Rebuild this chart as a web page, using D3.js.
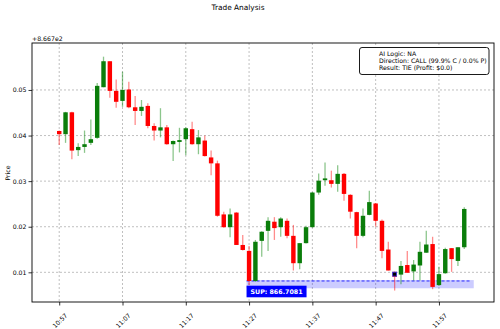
<!DOCTYPE html>
<html><head><meta charset="utf-8">
<script src="https://cdn.jsdelivr.net/npm/d3@7"></script>
<style>body{margin:0;background:#fff;}svg{display:block;font-family:"DejaVu Sans",sans-serif;}</style>
</head><body><svg id="c" width="500" height="329"></svg>
<script>
const times = ["10:57","10:58","10:59","11:00","11:01","11:02","11:03","11:04","11:05","11:06",
"11:07","11:08","11:09","11:10","11:11","11:12","11:13","11:14","11:15","11:16",
"11:17","11:18","11:19","11:20","11:21","11:22","11:23","11:24","11:25","11:26",
"11:27","11:28","11:29","11:30","11:31","11:32","11:33","11:34","11:35","11:36",
"11:37","11:38","11:39","11:40","11:41","11:42","11:43","11:44","11:45","11:46",
"11:47","11:48","11:49","11:50","11:51","11:52","11:53","11:54","11:55","11:56",
"11:57","11:58","11:59","12:00","12:01"];
const opens = [866.7410,866.7403,866.7451,866.7368,866.7375,866.7384,866.7395,866.7506,866.7563,866.7498,
866.7476,866.7501,866.7462,866.7454,866.7465,866.7421,866.7411,866.7418,866.7381,866.7386,
866.7392,866.7414,866.7381,866.7389,866.7352,866.7339,866.7227,866.7199,866.7231,866.7160,
866.7147,866.7081,866.7169,866.7191,866.7211,866.7199,866.7213,866.7180,866.7120,866.7164,
866.7199,866.7275,866.7302,866.7302,866.7294,866.7316,866.7270,866.7232,866.7180,866.7226,
866.7251,866.7213,866.7150,866.7101,866.7095,866.7116,866.7102,866.7115,866.7143,866.7162,
866.7072,866.7098,866.7153,866.7125,866.7155];
const highs = [866.7411,866.7452,866.7452,866.7383,866.7411,866.7435,866.7515,866.7573,866.7563,866.7523,
866.7540,866.7518,866.7487,866.7478,866.7471,866.7427,866.7460,866.7423,866.7389,866.7417,
866.7418,866.7430,866.7412,866.7400,866.7367,866.7345,866.7233,866.7240,866.7232,866.7182,
866.7158,866.7171,866.7190,866.7221,866.7221,866.7221,866.7218,866.7204,866.7164,866.7202,
866.7276,866.7317,866.7341,866.7323,866.7335,866.7318,866.7271,866.7233,866.7240,866.7279,
866.7252,866.7216,866.7167,866.7102,866.7125,866.7147,866.7127,866.7167,866.7191,866.7178,
866.7112,866.7154,866.7153,866.7155,866.7243];
const lows = [866.7379,866.7384,866.7348,866.7355,866.7362,866.7379,866.7393,866.7506,866.7483,866.7461,
866.7463,866.7460,866.7423,866.7443,866.7416,866.7389,866.7396,866.7380,866.7344,866.7363,
866.7357,866.7380,866.7359,866.7354,866.7313,866.7222,866.7198,866.7177,866.7160,866.7148,
866.7072,866.7079,866.7134,866.7147,866.7171,866.7178,866.7175,866.7104,866.7107,866.7163,
866.7198,866.7270,866.7290,866.7286,866.7277,866.7257,866.7218,866.7153,866.7177,866.7225,
866.7200,866.7131,866.7104,866.7060,866.7074,866.7099,866.7082,866.7082,866.7143,866.7063,
866.7070,866.7097,866.7101,866.7114,866.7151];
const closes = [866.7403,866.7451,866.7367,866.7375,866.7381,866.7392,866.7509,866.7563,866.7498,866.7474,
866.7500,866.7462,866.7454,866.7463,866.7421,866.7411,866.7418,866.7381,866.7388,866.7390,
866.7416,866.7381,866.7396,866.7355,866.7339,866.7224,866.7199,866.7227,866.7160,866.7149,
866.7081,866.7167,866.7189,866.7213,866.7197,866.7218,866.7180,866.7120,866.7164,866.7199,
866.7275,866.7301,866.7306,866.7294,866.7316,866.7272,866.7233,866.7180,866.7224,866.7254,
866.7213,866.7147,866.7104,866.7090,866.7114,866.7099,866.7117,866.7145,866.7161,866.7068,
866.7096,866.7151,866.7129,866.7155,866.7239];
const xTickLabels = ["10:57","11:07","11:17","11:27","11:37","11:47","11:57"];
const yTickValues = [866.71,866.72,866.73,866.74,866.75];
const yOffset = 866.7;
const supLevel = 866.7081;
const supZone = [866.7065, 866.7083];
const supStart = "11:26.6", supEnd = "12:02.5";
const entryTime = "11:50", entryPrice = 866.7096;
const infoLines = ["AI Logic: NA","Direction: CALL (99.9% C / 0.0% P)","Result: TIE (Profit: $0.0)"];

function toDate(s){ const [h,m] = s.split(":"); return new Date(2024,0,1,+h,0,0,0).getTime() + parseFloat(m)*60000; }
const data = times.map((t,i)=>({t:new Date(toDate(t)),o:opens[i],h:highs[i],l:lows[i],c:closes[i]}));

const L=32,R=494,T=43,B=302;
const svg = d3.select("#c");
const x = d3.scaleTime().domain([new Date(toDate("10:52.7")), new Date(toDate("12:05.7"))]).range([L,R]);
const y = d3.scaleLinear().domain([866.70349, 866.7603]).range([B,T]);

// grid
const g = svg.append("g");
xTickLabels.forEach(s=>{
  const xx = x(new Date(toDate(s)));
  g.append("line").attr("x1",xx).attr("x2",xx).attr("y1",T).attr("y2",B)
   .attr("stroke","#b0b0b0").attr("stroke-width",0.8).attr("stroke-dasharray","2,2");
});
yTickValues.forEach(v=>{
  g.append("line").attr("x1",L).attr("x2",R).attr("y1",y(v)).attr("y2",y(v))
   .attr("stroke","#b0b0b0").attr("stroke-width",0.8).attr("stroke-dasharray","2,2");
});

// support zone
const xs0 = x(new Date(toDate(supStart))), xs1 = x(new Date(toDate(supEnd)));
svg.append("rect").attr("x",xs0).attr("y",y(supZone[1])).attr("width",xs1-xs0)
  .attr("height",y(supZone[0])-y(supZone[1])).attr("fill","rgba(0,0,255,0.2)");
svg.append("line").attr("x1",xs0).attr("x2",xs1-3).attr("y1",y(supLevel)).attr("y2",y(supLevel))
  .attr("stroke","#0000ff").attr("stroke-width",1).attr("stroke-dasharray","3,2").attr("opacity",0.8);

// candles
const half = (x(new Date(toDate("10:57")+21000)) - x(new Date(toDate("10:57"))));
const cg = svg.append("g");
cg.selectAll(".w").data(data).join("line")
  .attr("x1",d=>x(d.t)).attr("x2",d=>x(d.t)).attr("y1",d=>y(d.h)).attr("y2",d=>y(d.l))
  .attr("stroke",d=>d.c>=d.o?"#008000":"#ff0000").attr("stroke-opacity",0.45).attr("stroke-width",1.3);
cg.selectAll(".b").data(data).join("rect")
  .attr("x",d=>x(d.t)-half).attr("width",half*2)
  .attr("y",d=>y(Math.max(d.o,d.c))).attr("height",d=>Math.max(1,Math.abs(y(d.o)-y(d.c))))
  .attr("fill",d=>d.c>=d.o?"#0a7d0a":"#ff0000");

// entry marker
const ex = x(new Date(toDate(entryTime))), ey = y(entryPrice);
svg.append("rect").attr("x",ex-2).attr("y",ey-2).attr("width",4).attr("height",4)
  .attr("fill","#000").attr("stroke","#4040ff").attr("stroke-width",0.8);

// SUP label
svg.append("rect").attr("x",xs0).attr("y",285.7).attr("width",60).attr("height",11.6).attr("fill","#0000ff");
svg.append("text").attr("x",xs0+30).attr("y",291.5).attr("dy","0.35em").attr("text-anchor","middle")
  .attr("fill","#fff").attr("font-weight","bold").attr("font-size",6.3).text("SUP: "+supLevel.toFixed(4));

// axes
const yAxis = d3.axisLeft(y).tickValues(yTickValues).tickSize(3.5).tickPadding(2)
  .tickFormat(v=>(v-yOffset).toFixed(2));
const ya = svg.append("g").attr("transform",`translate(${L},0)`).call(yAxis);
ya.select(".domain").remove();
ya.selectAll("text").attr("font-size",6.2).attr("fill","#000").attr("font-family","DejaVu Sans");
ya.selectAll("line").attr("stroke","#000").attr("stroke-width",0.8);

const xAxis = d3.axisBottom(x).tickValues(xTickLabels.map(s=>new Date(toDate(s)))).tickSize(3.5)
  .tickFormat((d,i)=>xTickLabels[i]);
const xa = svg.append("g").attr("transform",`translate(0,${B})`).call(xAxis);
xa.select(".domain").remove();
xa.selectAll("line").attr("stroke","#000").attr("stroke-width",0.8);
xa.selectAll("text").attr("font-size",6.2).attr("fill","#000").attr("font-family","DejaVu Sans")
  .attr("text-anchor","middle").attr("dy",null).attr("y",null)
  .attr("transform","translate(0,18.5) rotate(-45)").attr("dominant-baseline","central");

// frame
svg.append("rect").attr("x",L).attr("y",T).attr("width",R-L).attr("height",B-T)
  .attr("fill","none").attr("stroke","#000").attr("stroke-width",0.9);

// texts
svg.append("text").attr("x",238).attr("y",7.5).attr("dy","0.35em").attr("text-anchor","middle")
  .attr("font-size",7.4).text("Trade Analysis");
svg.append("text").attr("x",L).attr("y",40.8).attr("font-size",6.2).text("+8.667e2");
svg.append("text").attr("transform","translate(8,173) rotate(-90)").attr("text-anchor","middle")
  .attr("dy","0.35em").attr("font-size",6.2).text("Price");

// info box
svg.append("rect").attr("x",359.5).attr("y",47.5).attr("width",129.5).attr("height",27)
  .attr("rx",2.5).attr("fill","#fff").attr("stroke","#000").attr("stroke-width",0.9);
infoLines.forEach((s,i)=>{
  svg.append("text").attr("x",379).attr("y",54+i*6.7).attr("dy","0.35em").attr("font-size",6.2).text(s);
});
</script></body></html>
